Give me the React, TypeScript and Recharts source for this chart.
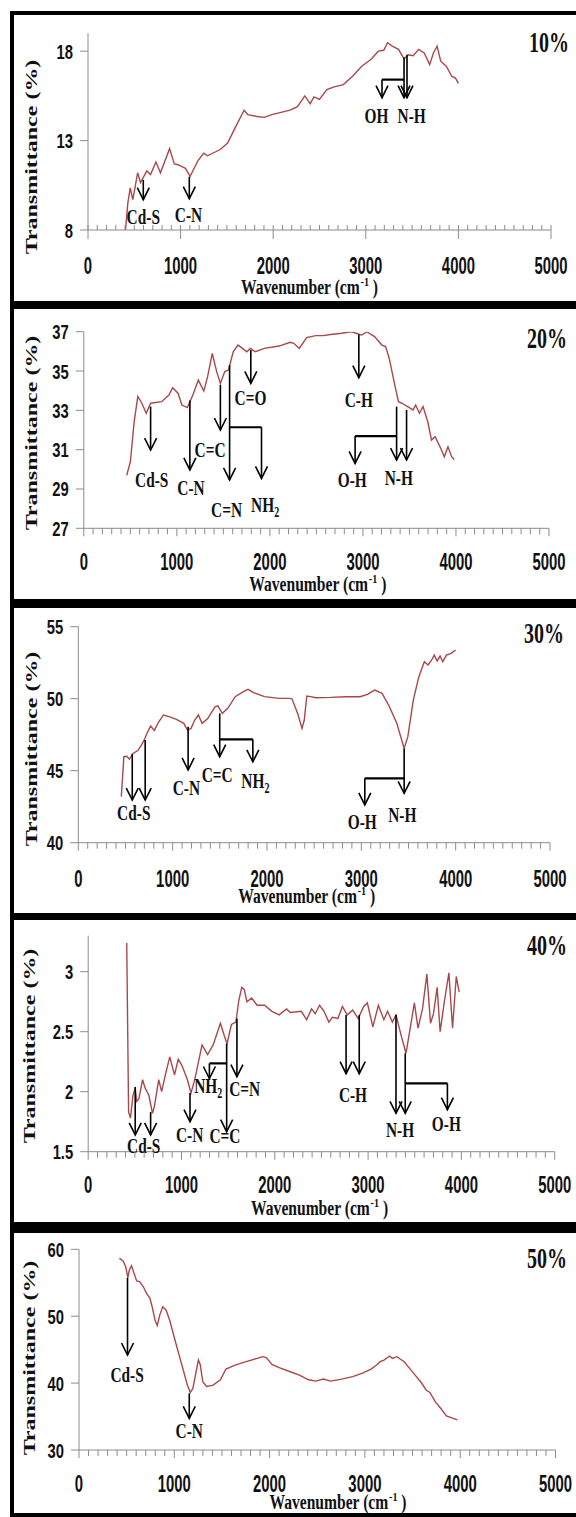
import React from 'react';
import { LineChart, Line, XAxis, YAxis, ReferenceLine, ReferenceDot } from 'recharts';

// ---------- shared tick labels ----------
const xTicks = [0, 100, 200, 300, 400, 500, 600, 700, 800, 900, 1000, 1100, 1200, 1300, 1400, 1500, 1600, 1700, 1800, 1900, 2000, 2100, 2200, 2300, 2400, 2500, 2600, 2700, 2800, 2900, 3000, 3100, 3200, 3300, 3400, 3500, 3600, 3700, 3800, 3900, 4000, 4100, 4200, 4300, 4400, 4500, 4600, 4700, 4800, 4900, 5000];

// ---------- panel 1 (10%) ----------
const p1Wave = [405, 430, 456, 484, 536, 567, 635, 675, 734, 782, 881, 932, 972, 1052, 1103, 1190, 1250, 1290, 1428, 1508, 1587, 1686, 1726, 1825, 1905, 1984, 2063, 2182, 2262, 2341, 2400, 2440, 2500, 2579, 2659, 2758, 2857, 2956, 3055, 3135, 3194, 3234, 3286, 3353, 3413, 3460, 3512, 3571, 3631, 3690, 3730, 3770, 3809, 3869, 3928, 3968, 4000];
const p1Trans = [8.0, 9.5, 10.35, 9.7, 11.2, 10.65, 11.3, 11.1, 11.8, 11.2, 12.55, 11.7, 11.65, 11.45, 11.0, 11.9, 12.3, 12.15, 12.5, 12.86, 13.7, 14.7, 14.45, 14.35, 14.3, 14.45, 14.55, 14.7, 14.9, 15.5, 15.07, 15.44, 15.3, 15.85, 16.0, 16.13, 16.6, 17.16, 17.53, 18.0, 18.05, 18.47, 18.28, 18.1, 17.57, 17.8, 17.75, 18.1, 17.9, 17.25, 17.9, 18.28, 17.44, 17.16, 16.6, 16.5, 16.2];
const p1YTicks = [8, 13, 18];
const p1Arrows: number[][] = [[597, 10.8, 9.7], [1094, 10.98, 9.75], [3413, 17.65, 15.4], [3445, 17.8, 15.4], [3175, 16.41, 15.4]];
const p1Brackets: number[][] = [[3175, 16.41, 3413, 16.41]];
const p1Notes: [string, number, number][] = [['Cd-S', 597, 8.34], ['C-N', 1085, 8.45], ['OH', 3115, 14.0], ['N-H', 3495, 14.0]];
const p1Tag: [string, number, number] = ['10%', 4978, 17.94];

// ---------- panel 2 (20%) ----------
const p2Wave = [462, 501, 541, 580, 620, 671, 718, 837, 915, 955, 1014, 1054, 1113, 1172, 1231, 1290, 1330, 1381, 1428, 1468, 1515, 1555, 1606, 1657, 1705, 1752, 1791, 1843, 1941, 2099, 2218, 2257, 2316, 2395, 2494, 2573, 2652, 2770, 2869, 2928, 2987, 3046, 3086, 3125, 3204, 3244, 3283, 3342, 3382, 3421, 3480, 3539, 3567, 3607, 3646, 3697, 3737, 3776, 3836, 3875, 3914, 3954, 3981];
const p2Trans = [29.7, 30.4, 32.4, 33.7, 33.4, 32.85, 33.36, 33.44, 33.78, 34.15, 33.86, 33.27, 33.14, 33.78, 34.54, 33.98, 34.7, 35.9, 34.97, 34.37, 34.97, 35.05, 35.98, 36.32, 36.15, 35.98, 36.15, 35.98, 36.15, 36.27, 36.46, 36.41, 36.15, 36.7, 36.8, 36.8, 36.86, 36.92, 37.0, 36.92, 36.83, 37.0, 36.86, 36.75, 36.32, 36.24, 35.64, 34.29, 33.44, 33.36, 33.19, 33.02, 33.27, 32.85, 33.19, 32.42, 31.49, 31.66, 31.07, 30.64, 31.15, 30.64, 30.5];
const p2YTicks = [27, 29, 31, 33, 35, 37];
const p2Arrows: number[][] = [[718, 33.19, 30.98], [1140, 33.5, 29.97], [1468, 34.3, 32.0], [1567, 35.3, 29.46], [1910, 32.14, 29.54], [1795, 36.07, 34.37], [2956, 36.86, 34.66], [3362, 33.19, 30.47], [3469, 33.02, 30.47], [2916, 31.69, 30.3]];
const p2Brackets: number[][] = [[1567, 32.14, 1910, 32.14], [2916, 31.69, 3362, 31.69]];
const p2Notes: [string, number, number][] = [['Cd-S', 730, 29.12], ['C-N', 1152, 28.69], ['C=C', 1357, 30.64], ['C=N', 1535, 27.6], ['NH2', 1949, 27.85], ['C=O', 1791, 33.27], ['C-H', 2956, 33.19], ['O-H', 2885, 29.12], ['N-H', 3386, 29.2]];
const p2Tag: [string, number, number] = ['20%', 4978, 36.17];

// ---------- panel 3 (30%) ----------
const p3Wave = [456, 483, 514, 541, 580, 631, 670, 697, 728, 767, 806, 853, 903, 962, 1040, 1118, 1157, 1195, 1234, 1273, 1312, 1370, 1449, 1480, 1526, 1585, 1663, 1760, 1799, 1857, 1974, 2130, 2247, 2266, 2325, 2371, 2395, 2422, 2461, 2519, 2675, 2831, 2987, 3065, 3142, 3220, 3298, 3376, 3454, 3493, 3551, 3610, 3668, 3707, 3746, 3773, 3804, 3835, 3863, 3902, 3952, 3999];
const p3Trans = [43.2, 45.97, 46.0, 45.8, 46.2, 46.4, 46.8, 47.1, 47.6, 48.1, 47.8, 48.4, 48.87, 48.75, 48.56, 48.29, 47.82, 47.94, 48.52, 48.87, 48.29, 48.6, 49.44, 49.5, 48.98, 49.33, 50.14, 50.53, 50.65, 50.42, 50.14, 50.02, 50.02, 49.98, 48.98, 47.94, 48.5, 50.19, 50.14, 50.07, 50.09, 50.14, 50.14, 50.3, 50.6, 50.37, 49.44, 48.29, 46.55, 47.36, 49.9, 51.53, 52.57, 52.34, 52.69, 53.03, 52.62, 52.96, 52.57, 53.03, 53.15, 53.38];
const p3YTicks = [40, 45, 50, 55];
const p3Arrows: number[][] = [[572, 46.16, 42.96], [709, 47.13, 42.96], [1164, 48.06, 45.05], [1499, 48.98, 45.97], [1850, 47.18, 45.62], [3454, 46.55, 43.43], [3037, 44.47, 42.62]];
const p3Brackets: number[][] = [[1499, 47.18, 1850, 47.18], [3037, 44.47, 3454, 44.47]];
const p3Notes: [string, number, number][] = [['Cd-S', 588, 41.57], ['C-N', 1145, 43.3], ['C=C', 1472, 44.24], ['NH2', 1877, 43.77], ['O-H', 3010, 40.93], ['N-H', 3435, 41.46]];
const p3Tag: [string, number, number] = ['30%', 4936, 53.87];

// ---------- panel 4 (40%) ----------
const p4Wave = [413, 433, 453, 480, 504, 520, 543, 583, 610, 650, 689, 709, 756, 787, 827, 874, 925, 965, 1004, 1063, 1102, 1142, 1220, 1280, 1339, 1417, 1457, 1488, 1535, 1583, 1614, 1646, 1673, 1701, 1752, 1811, 1890, 1969, 2047, 2126, 2165, 2283, 2342, 2394, 2433, 2480, 2528, 2579, 2618, 2677, 2724, 2776, 2835, 2894, 2953, 2992, 3051, 3110, 3169, 3209, 3260, 3299, 3354, 3406, 3445, 3496, 3535, 3583, 3630, 3669, 3701, 3740, 3772, 3819, 3866, 3905, 3945, 3976];
const p4Trans = [3.24, 1.83, 1.78, 1.97, 2.03, 1.92, 1.94, 2.1, 2.03, 1.97, 1.82, 1.875, 2.1, 2.0, 2.14, 2.29, 2.14, 2.27, 2.22, 2.1, 1.99, 2.1, 2.39, 2.31, 2.39, 2.57, 2.47, 2.4, 2.56, 2.58, 2.76, 2.87, 2.85, 2.75, 2.78, 2.72, 2.72, 2.67, 2.64, 2.69, 2.66, 2.67, 2.6, 2.69, 2.65, 2.72, 2.67, 2.58, 2.62, 2.61, 2.71, 2.64, 2.68, 2.61, 2.71, 2.74, 2.54, 2.72, 2.6, 2.67, 2.58, 2.64, 2.47, 2.32, 2.5, 2.74, 2.53, 2.69, 2.98, 2.57, 2.65, 2.87, 2.5, 2.76, 2.99, 2.53, 2.96, 2.83];
const p4YTicks = [1.5, 2, 2.5, 3];
const p4Arrows: number[][] = [[504, 2.04, 1.64], [669, 1.83, 1.64], [1091, 1.99, 1.75], [1484, 2.4, 1.667], [1299, 2.236, 2.11], [1594, 2.61, 2.125], [2764, 2.64, 2.15], [2905, 2.64, 2.15], [3299, 2.64, 1.82], [3398, 2.32, 1.82], [3850, 2.07, 1.85]];
const p4Brackets: number[][] = [[1299, 2.236, 1484, 2.236], [3398, 2.07, 3850, 2.07]];
const p4Notes: [string, number, number][] = [['Cd-S', 595, 1.486], ['C-N', 1087, 1.583], ['C=C', 1465, 1.57], ['NH2', 1287, 1.986], ['C=N', 1677, 1.967], ['C-H', 2838, 1.917], ['N-H', 3342, 1.625], ['O-H', 3839, 1.675]];
const p4Tag: [string, number, number] = ['40%', 4918, 3.14];

// ---------- panel 5 (50%) ----------
const p5Wave = [424, 463, 490, 513, 528, 551, 578, 605, 636, 675, 713, 744, 771, 798, 821, 848, 879, 914, 952, 1002, 1060, 1099, 1137, 1168, 1195, 1222, 1253, 1272, 1299, 1338, 1407, 1484, 1542, 1638, 1754, 1870, 1928, 1966, 2024, 2101, 2217, 2313, 2409, 2486, 2564, 2641, 2756, 2872, 2968, 3065, 3123, 3161, 3200, 3258, 3289, 3335, 3412, 3469, 3527, 3585, 3643, 3682, 3739, 3797, 3855, 3913, 3971];
const p5Trans = [58.65, 58.25, 57.4, 55.76, 56.9, 57.55, 56.4, 55.26, 55.16, 54.4, 53.3, 52.7, 51.2, 49.4, 48.6, 50.2, 51.4, 50.9, 49.4, 46.7, 43.7, 41.7, 39.7, 38.6, 39.2, 41.2, 43.45, 42.8, 40.2, 39.5, 39.7, 40.5, 42.1, 42.7, 43.2, 43.7, 43.95, 43.8, 42.8, 42.3, 41.7, 41.2, 40.5, 40.3, 40.6, 40.3, 40.6, 40.96, 41.46, 42.1, 42.7, 43.2, 43.45, 44.05, 43.7, 43.95, 43.2, 42.2, 41.2, 40.2, 38.97, 38.6, 37.2, 36.2, 35.1, 34.8, 34.5];
const p5YTicks = [30, 40, 50, 60];
const p5Arrows: number[][] = [[509, 55.76, 44.2], [1157, 38.47, 34.73]];
const p5Brackets: number[][] = [];
const p5Notes: [string, number, number][] = [['Cd-S', 505, 40.21], ['C-N', 1157, 31.74]];
const p5Tag: [string, number, number] = ['50%', 4911, 57.2];

// ---------- styling ----------
const serif = '"Liberation Serif", "Times New Roman", Times, serif';
const sans = '"Liberation Sans", Arial, sans-serif';
const axisGray = '#8c8c8c';
const lineColor = '#A8484A';
const ink = '#111';

type Cfg = {
  top: number; height: number;
  margin: { top: number; right: number; bottom: number; left: number };
  domain: [number, number]; yTicks: number[];
  wave: number[]; trans: number[];
  arrows: number[][]; brackets: number[][]; notes: [string, number, number][]; tag: [string, number, number];
  minorUp: boolean; tickDy: number;
  xTitle: [number, number]; yTitle: [number, number];
  frame: { top: number; height: number; bt: number; bb: number };
};

// margin.left / margin.bottom are 1px smaller than the plot offsets because the axes take 1px each
const panels: Cfg[] = [
  { top: 11, height: 294, margin: { top: 22.3, right: 25, bottom: 74, left: 87 }, domain: [8, 19], yTicks: p1YTicks,
    wave: p1Wave, trans: p1Trans, arrows: p1Arrows, brackets: p1Brackets, notes: p1Notes, tag: p1Tag,
    minorUp: true, tickDy: 44, xTitle: [309.5, 294], yTitle: [36.5, 157], frame: { top: 11, height: 294, bt: 4, bb: 4 } },
  { top: 305, height: 298, margin: { top: 26.7, right: 27, bottom: 73.7, left: 82.8 }, domain: [27, 37], yTicks: p2YTicks,
    wave: p2Wave, trans: p2Trans, arrows: p2Arrows, brackets: p2Brackets, notes: p2Notes, tag: p2Tag,
    minorUp: false, tickDy: 42, xTitle: [317.8, 591], yTitle: [36.5, 433], frame: { top: 305, height: 298, bt: 4, bb: 4 } },
  { top: 603, height: 314, margin: { top: 23.7, right: 26, bottom: 73.3, left: 77.3 }, domain: [40, 55], yTicks: p3YTicks,
    wave: p3Wave, trans: p3Trans, arrows: p3Arrows, brackets: p3Brackets, notes: p3Notes, tag: p3Tag,
    minorUp: false, tickDy: 44, xTitle: [306.7, 903], yTitle: [37, 749], frame: { top: 603, height: 314, bt: 5, bb: 4 } },
  { top: 916, height: 311, margin: { top: 19.7, right: 21.3, bottom: 74.3, left: 87.2 }, domain: [1.5, 3.3], yTicks: p4YTicks,
    wave: p4Wave, trans: p4Trans, arrows: p4Arrows, brackets: p4Brackets, notes: p4Notes, tag: p4Tag,
    minorUp: false, tickDy: 41, xTitle: [319.6, 1215], yTitle: [35, 1046], frame: { top: 916, height: 311, bt: 4, bb: 5 } },
  { top: 1227, height: 290, margin: { top: 22.3, right: 20.5, bottom: 66, left: 78 }, domain: [30, 60], yTicks: p5YTicks,
    wave: p5Wave, trans: p5Trans, arrows: p5Arrows, brackets: p5Brackets, notes: p5Notes, tag: p5Tag,
    minorUp: false, tickDy: 42, xTitle: [338, 1509], yTitle: [35, 1358], frame: { top: 1227, height: 290, bt: 6, bb: 4 } },
];

const makeXTick = (cfg: Cfg) => (props: any) => {
  const { x, y, payload } = props;
  const v = payload.value as number;
  const major = v % 1000 === 0;
  const tick = cfg.minorUp
    ? <line x1={x} x2={x} y1={y - 5} y2={major ? y + 9 : y} stroke={axisGray} strokeWidth={1} />
    : <line x1={x} x2={x} y1={y} y2={y + (major ? 8 : 6)} stroke={axisGray} strokeWidth={1} />;
  return (
    <g>
      {tick}
      {major && (
        <text transform={`translate(${x},${y + cfg.tickDy}) scale(0.62,1)`} textAnchor="middle"
          fontSize={24} fontFamily={sans} fontWeight="bold" fill={ink}>{v}</text>
      )}
    </g>
  );
};

const YTick = (props: any) => {
  const { x, y, payload } = props;
  return (
    <g>
      <line x1={x - 8} x2={x} y1={y} y2={y} stroke={axisGray} strokeWidth={1} />
      <text transform={`translate(${x - 15},${y + 7.5}) scale(0.74,1)`} textAnchor="end"
        fontSize={20} fontFamily={sans} fontWeight="bold" fill={ink}>{payload.value}</text>
    </g>
  );
};

const ArrowShape = (p: any) => {
  const { x1, y1, x2, y2 } = p;
  const dir = y2 > y1 ? 1 : -1;
  return (
    <g>
      <line x1={x1} y1={y1} x2={x2} y2={y2} stroke="#000" strokeWidth={1.6} />
      <polyline points={`${x2 - 6},${y2 - 12 * dir} ${x2},${y2} ${x2 + 6},${y2 - 12 * dir}`}
        fill="none" stroke="#000" strokeWidth={1.6} />
    </g>
  );
};

const BracketShape = (p: any) => (
  <line x1={p.x1} y1={p.y1} x2={p.x2} y2={p.y2} stroke="#000" strokeWidth={2.2} />
);

const noteShape = (text: string, size: number, sx: number) => (p: any) => {
  const { cx, cy } = p;
  if (cx == null || cy == null) return <g />;
  return (
    <text transform={`translate(${cx},${cy}) scale(${sx},1)`} textAnchor="middle" fontSize={size}
      fontFamily={serif} fontWeight="bold" fill={ink}>
      {text === 'NH2' ? (<><tspan>NH</tspan><tspan fontSize={size * 0.65} dy={5}>2</tspan></>) : text}
    </text>
  );
};

function Panel({ cfg }: { cfg: Cfg }) {
  const data = cfg.wave.map((w, i) => ({ w, t: cfg.trans[i] }));
  const XTick = makeXTick(cfg);
  const xTitle = () => (
    <text transform={`translate(${cfg.xTitle[0]},${cfg.xTitle[1] - cfg.top}) scale(0.78,1)`} textAnchor="middle"
      fontSize={20} fontFamily={serif} fontWeight="bold" fill={ink}>
      Wavenumber (cm<tspan fontSize={13} dx={1} dy={-8}>-1</tspan><tspan dy={8}> )</tspan>
    </text>
  );
  const yTitle = () => (
    <text transform={`translate(${cfg.yTitle[0]},${cfg.yTitle[1] - cfg.top}) scale(0.7,1) rotate(-90)`} textAnchor="middle"
      fontSize={24} fontFamily={serif} fontWeight="bold" fill={ink}>Transmittance (%)</text>
  );
  return (
    <div style={{ position: 'absolute', left: 0, top: cfg.top, width: 576, height: cfg.height }}>
      <LineChart width={576} height={cfg.height} data={data} margin={cfg.margin}>
        <XAxis dataKey="w" type="number" domain={[0, 5000]} ticks={xTicks} interval={0} height={1}
          tickSize={0} tickMargin={0} tickLine={false} axisLine={{ stroke: axisGray }} tick={XTick}
          allowDataOverflow label={{ content: xTitle }} />
        <YAxis type="number" domain={cfg.domain} ticks={cfg.yTicks} interval={0} width={1}
          tickSize={0} tickMargin={0} tickLine={false} axisLine={{ stroke: axisGray }} tick={YTick}
          allowDataOverflow label={{ content: yTitle }} />
        <Line dataKey="t" type="linear" stroke={lineColor} strokeWidth={1.4} dot={false}
          isAnimationActive={false} />
        {cfg.brackets.map((b, i) => (
          <ReferenceLine key={`b${i}`} segment={[{ x: b[0], y: b[1] }, { x: b[2], y: b[3] }]}
            ifOverflow="visible" shape={BracketShape} />
        ))}
        {cfg.arrows.map((a, i) => (
          <ReferenceLine key={`a${i}`} segment={[{ x: a[0], y: a[1] }, { x: a[0], y: a[2] }]}
            ifOverflow="visible" shape={ArrowShape} />
        ))}
        {cfg.notes.map((n, i) => (
          <ReferenceDot key={`n${i}`} x={n[1]} y={n[2]} r={1} ifOverflow="visible" shape={noteShape(n[0], 22, 0.7)} />
        ))}
        <ReferenceDot x={cfg.tag[1]} y={cfg.tag[2]} r={1} ifOverflow="visible" shape={noteShape(cfg.tag[0], 29, 0.69)} />
      </LineChart>
    </div>
  );
}

export default function App() {
  return (
    <div style={{ position: 'absolute', left: 0, top: 0, width: 576, height: 1517, overflow: 'hidden', background: '#fff' }}>
      {panels.map((cfg, i) => <Panel key={i} cfg={cfg} />)}
      {panels.map((cfg, i) => (
        <div key={`f${i}`} style={{
          position: 'absolute', left: 10, top: cfg.frame.top, width: 620, height: cfg.frame.height,
          boxSizing: 'border-box', borderStyle: 'solid', borderColor: '#000',
          borderLeftWidth: 4, borderRightWidth: 4, borderTopWidth: cfg.frame.bt, borderBottomWidth: cfg.frame.bb,
          pointerEvents: 'none',
        }} />
      ))}
    </div>
  );
}
